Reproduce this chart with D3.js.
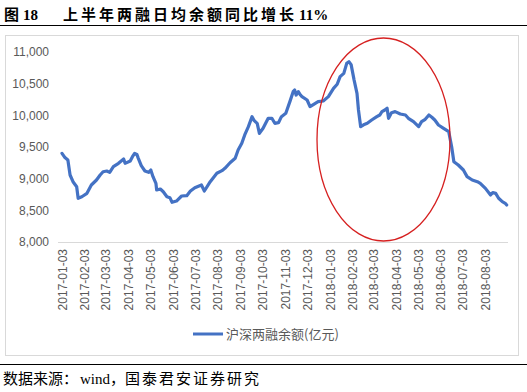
<!DOCTYPE html>
<html><head><meta charset="utf-8">
<script src="https://cdn.jsdelivr.net/npm/d3@7"></script>
<style>html,body{margin:0;padding:0;background:#fff;}svg{display:block;}</style>
</head><body>
<script>
const titleParts = ["图", "18", "上半年两融日均余额同比增长", "11%"];
const sourceParts = ["数据来源：", "wind，", "国泰君安证券研究"];
const seriesName = "沪深两融余额(亿元)";

const dates = [
"2017-01-03","2017-01-07","2017-01-11","2017-01-14","2017-01-18","2017-01-23","2017-01-25","2017-01-30",
"2017-02-06","2017-02-12","2017-02-19","2017-02-24","2017-02-28","2017-03-05","2017-03-09","2017-03-14",
"2017-03-21","2017-03-28","2017-03-30","2017-04-06","2017-04-09","2017-04-12","2017-04-15","2017-04-17",
"2017-04-21","2017-04-26","2017-05-01","2017-05-04","2017-05-07","2017-05-11","2017-05-12","2017-05-17",
"2017-05-21","2017-05-26","2017-05-30","2017-06-02","2017-06-08","2017-06-15","2017-06-22","2017-06-27",
"2017-07-03","2017-07-12","2017-07-16","2017-07-24","2017-08-02","2017-08-09","2017-08-13","2017-08-20",
"2017-08-27","2017-08-31","2017-09-05","2017-09-09","2017-09-14","2017-09-19","2017-09-22","2017-09-26",
"2017-09-29","2017-10-04","2017-10-11","2017-10-16","2017-10-20","2017-10-25","2017-10-29","2017-11-04",
"2017-11-10","2017-11-14","2017-11-16","2017-11-18","2017-11-21","2017-11-24","2017-11-26","2017-12-03",
"2017-12-07","2017-12-12","2017-12-18","2017-12-25","2018-01-01","2018-01-08","2018-01-13","2018-01-17",
"2018-01-22","2018-01-26","2018-01-29","2018-02-01","2018-02-05","2018-02-09","2018-02-11","2018-02-14",
"2018-02-18","2018-02-23","2018-03-01","2018-03-08","2018-03-12","2018-03-15","2018-03-19","2018-03-22",
"2018-03-24","2018-03-28","2018-04-02","2018-04-09","2018-04-16","2018-04-20","2018-04-27","2018-05-04",
"2018-05-08","2018-05-13","2018-05-18","2018-05-22","2018-05-26","2018-05-31","2018-06-07","2018-06-14",
"2018-06-18","2018-06-21","2018-06-27","2018-07-04","2018-07-09","2018-07-16","2018-07-23","2018-07-27",
"2018-08-03","2018-08-10","2018-08-13","2018-08-17","2018-08-21","2018-08-26","2018-08-30","2018-09-01"
];
const balance = [
9400,9333,9295,9058,8952,8873,8690,8715,
8768,8900,8979,9058,9110,9121,9100,9190,
9242,9310,9242,9279,9347,9400,9384,9321,
9205,9121,9100,9137,9032,8926,8821,8837,
8794,8715,8700,8627,8647,8726,8731,8805,
8857,8900,8805,8952,9085,9126,9163,9252,
9321,9453,9558,9690,9821,9979,9916,9874,
9716,9795,9953,9953,9874,9884,9979,10032,
10232,10374,10400,10321,10374,10321,10295,10242,
10137,10174,10216,10226,10295,10426,10490,10611,
10663,10821,10847,10800,10560,10348,10084,9821,
9850,9874,9926,9979,10005,10058,10084,10111,
9953,10042,10058,10021,10005,9953,9900,9821,
9900,9937,10005,9969,9926,9847,9795,9742,
9505,9268,9216,9137,9032,8979,8952,8926,
8847,8742,8780,8768,8690,8637,8611,8584
];
const yTicks = [8000,8500,9000,9500,10000,10500,11000];
const xTickLabels = ["2017-01-03","2017-02-03","2017-03-03","2017-04-03","2017-05-03","2017-06-03","2017-07-03",
"2017-08-03","2017-09-03","2017-10-03","2017-11-03","2017-12-03","2018-01-03","2018-02-03","2018-03-03",
"2018-04-03","2018-05-03","2018-06-03","2018-07-03","2018-08-03"];

const W = 527, H = 392;
const parse = d3.utcParse("%Y-%m-%d");
const data = dates.map((d,i)=>({date:parse(d), v:balance[i]}));

const svg = d3.select("body").append("svg").attr("width",W).attr("height",H);
svg.append("rect").attr("width",W).attr("height",H).attr("fill","#fff");

// title
const serif = "'Liberation Serif','Noto Sans CJK SC',serif";
const title = svg.append("text").attr("y",20).attr("font-family",serif).attr("font-weight","bold")
  .attr("font-size",15).attr("fill","#000");
title.append("tspan").attr("x",4).text(titleParts[0]);
title.append("tspan").attr("x",23).text(titleParts[1]);
title.append("tspan").attr("x",63).attr("letter-spacing",3).text(titleParts[2]);
title.append("tspan").attr("x",299).text(titleParts[3]);
svg.append("line").attr("x1",0).attr("x2",W).attr("y1",25.5).attr("y2",25.5).attr("stroke","#000").attr("stroke-width",1);

// chart frame
svg.append("rect").attr("x",5.5).attr("y",35.5).attr("width",513).attr("height",320)
  .attr("fill","none").attr("stroke","#d9d9d9").attr("stroke-width",1);

const x = d3.scaleUtc().domain([parse("2017-01-03"), parse("2018-09-01")]).range([62, 506.7]);
const y = d3.scaleLinear().domain([8000,11000]).range([242,52]);

// y axis labels
const yAxis = d3.axisLeft(y).tickValues(yTicks).tickFormat(d3.format(",")).tickSize(0).tickPadding(0);
const gy = svg.append("g").attr("transform","translate(49,0)").call(yAxis);
gy.select(".domain").remove();
gy.selectAll("text").attr("font-family","'Liberation Sans',Arial,sans-serif").attr("font-size",12).attr("fill","#595959");

// x axis
const xAxis = d3.axisBottom(x).tickValues(xTickLabels.map(parse)).tickFormat(d3.utcFormat("%Y-%m-%d")).tickSize(0).tickPadding(0);
const gx = svg.append("g").attr("transform","translate(0,242)").call(xAxis);
gx.select(".domain").remove();
gx.selectAll("text").attr("font-family","'Liberation Sans',Arial,sans-serif").attr("font-size",12).attr("fill","#595959")
  .attr("text-anchor","end").attr("dy","0.35em").attr("y",0)
  .attr("transform","translate(0,7) rotate(-90)");
svg.append("line").attr("x1",58).attr("x2",508).attr("y1",242.5).attr("y2",242.5).attr("stroke","#d9d9d9").attr("stroke-width",1);

// line
const line = d3.line().x(d=>x(d.date)).y(d=>y(d.v));
svg.append("path").datum(data).attr("d",line).attr("fill","none").attr("stroke","#4472C4")
  .attr("stroke-width",3.2).attr("stroke-linejoin","round").attr("stroke-linecap","round");

// red ellipse
svg.append("ellipse").attr("cx",383.5).attr("cy",139.5).attr("rx",66.5).attr("ry",101.5)
  .attr("fill","none").attr("stroke","#d62020").attr("stroke-width",1.3);

// legend
svg.append("line").attr("x1",193).attr("x2",223).attr("y1",334).attr("y2",334).attr("stroke","#4472C4").attr("stroke-width",3);
svg.append("text").attr("x",226).attr("y",334).attr("dy","0.35em").attr("font-family","'Noto Sans CJK SC',sans-serif")
  .attr("font-size",13).attr("fill","#595959").text(seriesName);

// footer
svg.append("line").attr("x1",0).attr("x2",W).attr("y1",364.5).attr("y2",364.5).attr("stroke","#000").attr("stroke-width",1);
const src = svg.append("text").attr("y",384).attr("font-family",serif).attr("font-size",15).attr("fill","#000");
src.append("tspan").attr("x",3).text(sourceParts[0]);
src.append("tspan").attr("x",80).text(sourceParts[1]);
src.append("tspan").attr("x",125).attr("letter-spacing",2).text(sourceParts[2]);
</script>
</body></html>
